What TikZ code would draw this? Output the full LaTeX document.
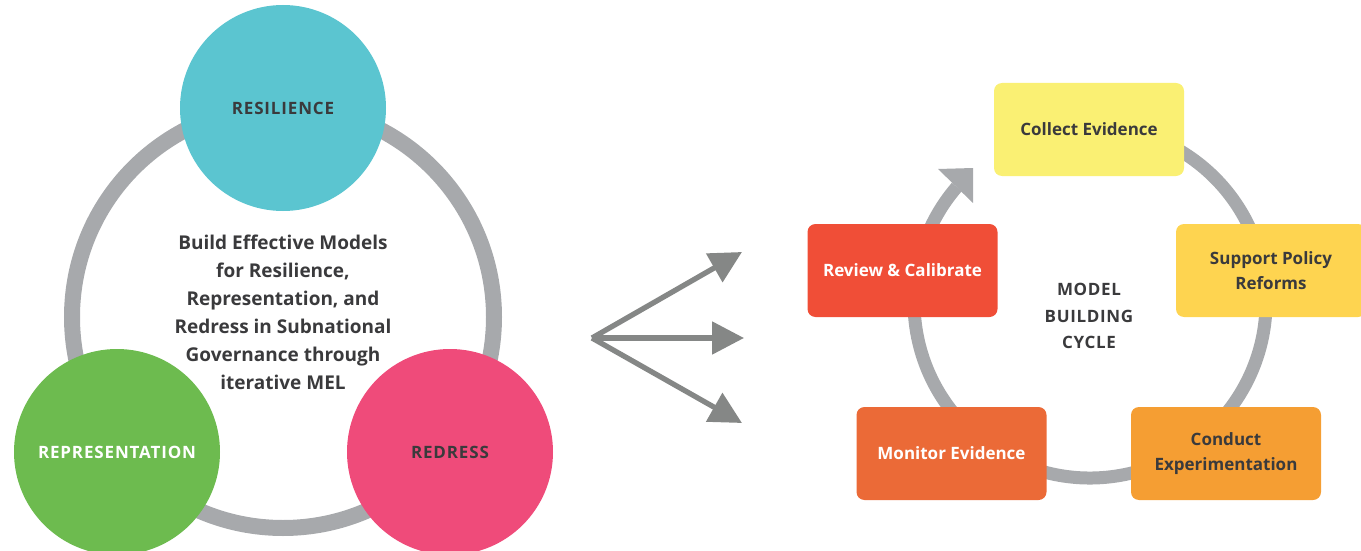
\documentclass[tikz,border=0pt]{standalone}
\usepackage{fontspec}
\setmainfont{Open Sans}
\usetikzlibrary{arrows.meta}
\definecolor{ringgray}{HTML}{A7A9AC}
\definecolor{fangray}{HTML}{858786}
\definecolor{textdark}{HTML}{3A3A3C}
\definecolor{resil}{HTML}{5BC5D0}
\definecolor{repres}{HTML}{6DBB4F}
\definecolor{redress}{HTML}{EF4B7A}
\definecolor{collect}{HTML}{FAF073}
\definecolor{support}{HTML}{FED450}
\definecolor{review}{HTML}{F04E37}
\definecolor{monitor}{HTML}{EB6A37}
\definecolor{conduct}{HTML}{F59E33}

\begin{document}
\begin{tikzpicture}[x=1pt,y=1pt]
            \tikzstyle{every node}+=[inner sep=0pt]
            \tikzstyle{pillar}=[circle, minimum size=206pt, font=\bfseries\fontsize{17}{20}\selectfont\addfontfeature{LetterSpace=5}]
            \tikzstyle{stagebox}=[rounded corners=8pt, minimum width=190pt, minimum height=93pt, align=center, font=\bfseries\fontsize{17}{25}\selectfont]
            \tikzstyle{fanarrow}=[fangray, line width=5.3pt, -{Triangle[length=32pt,width=32pt]}]
            \useasboundingbox (0,0) rectangle (1361,-551);
            % left: ring with three pillars
            \draw [ringgray, line width=16pt] (283,-317) circle (211);
            \node [pillar, fill=resil, text=textdark] (resilience) at (283,-108) {RESILIENCE};
            \node [pillar, fill=repres, text=white] (representation) at (117,-452) {REPRESENTATION};
            \node [pillar, fill=redress, text=textdark] (redress) at (450,-452) {REDRESS};
            \node [align=center, text=textdark, font=\bfseries\fontsize{19}{28}\selectfont] (goal) at (283,-312) {Build Effective Models\\for Resilience,\\Representation, and\\Redress in Subnational\\Governance through\\iterative MEL};
            % middle: fan of arrows
            \coordinate (fan) at (592,-338);
            \coordinate (fanup) at (742,-252);
            \coordinate (fanmid) at (744,-338);
            \coordinate (fandown) at (742,-423);
            \draw [fanarrow] (fan) -- (fanup);
            \draw [fanarrow] (fan) -- (fanmid);
            \draw [fanarrow] (fan) -- (fandown);
            % right: model building cycle
            \draw [ringgray, line width=13pt] (1090,-302) ++(100:176) arc (100:-220.8:176);
            \fill [ringgray] (973,-168) -- (938,-169) -- (973,-203) -- cycle;
            \node [stagebox, fill=collect, text=textdark] (collect) at (1089,-129.5) {Collect Evidence};
            \node [stagebox, fill=support, text=textdark] (support) at (1271,-270.5) {Support Policy\\Reforms};
            \node [stagebox, fill=review, text=white] (review) at (902.5,-270.5) {Review \& Calibrate};
            \node [stagebox, fill=monitor, text=white] (monitor) at (951.5,-453.5) {Monitor Evidence};
            \node [stagebox, fill=conduct, text=textdark] (conduct) at (1226,-453.5) {Conduct\\Experimentation};
            \node [align=center, text=textdark, font=\bfseries\fontsize{17}{26.5}\selectfont\addfontfeature{LetterSpace=4}] (cycle) at (1089,-316) {MODEL\\BUILDING\\CYCLE};
\end{tikzpicture}
\end{document}
